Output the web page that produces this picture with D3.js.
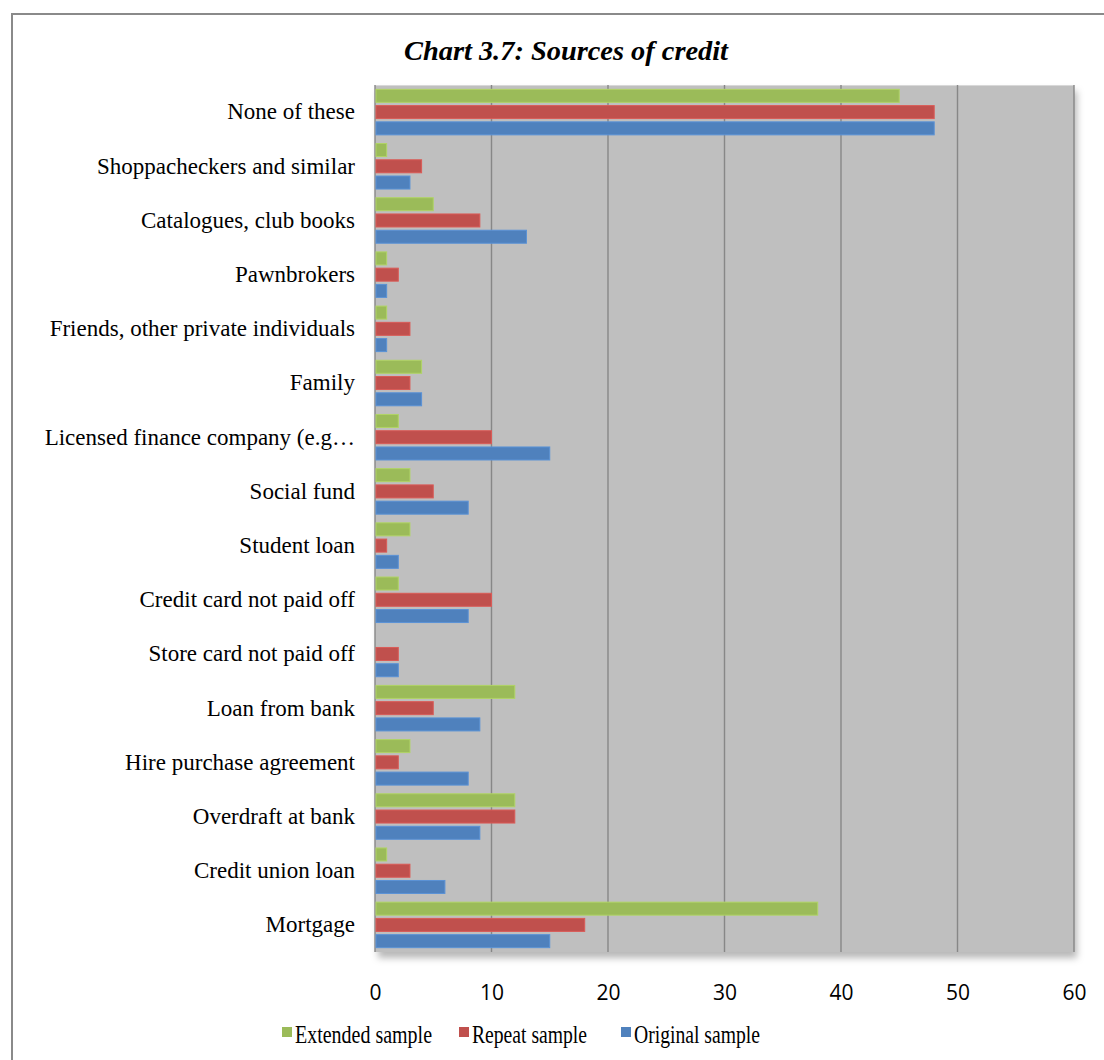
<!DOCTYPE html>
<html>
<head>
<meta charset="utf-8">
<script src="https://cdnjs.cloudflare.com/ajax/libs/d3/7.8.5/d3.min.js"></script>
<style>
  html, body { margin: 0; padding: 0; background: #fff; }
  svg { display: block; }
</style>
</head>
<body>
<svg id="chart" width="1104" height="1060"></svg>
<script>
// ---- data ----
const categories = [
  "None of these",
  "Shoppacheckers and similar",
  "Catalogues, club books",
  "Pawnbrokers",
  "Friends, other private individuals",
  "Family",
  "Licensed finance company (e.g…",
  "Social fund",
  "Student loan",
  "Credit card not paid off",
  "Store card not paid off",
  "Loan from bank",
  "Hire purchase agreement",
  "Overdraft at bank",
  "Credit union loan",
  "Mortgage"
];
const seriesNames = ["Extended sample", "Repeat sample", "Original sample"];
const extendedSample = [45, 1, 5, 1, 1, 4, 2, 3, 3, 2, 0, 12, 3, 12, 1, 38];
const repeatSample   = [48, 4, 9, 2, 3, 3, 10, 5, 1, 10, 2, 5, 2, 12, 3, 18];
const originalSample = [48, 3, 13, 1, 1, 4, 15, 8, 2, 8, 2, 9, 8, 9, 6, 15];
const xTicks = [0, 10, 20, 30, 40, 50, 60];
const seriesColors = ["#9BBB59", "#C0504D", "#4F81BD"];
const titleText = "Chart 3.7: Sources of credit";

// ---- layout ----
const svg = d3.select("#chart");
const plot = { left: 375, right: 1074, top: 85, bottom: 952 };

const x = d3.scaleLinear().domain([0, 60]).range([plot.left, plot.right]);
const y = d3.scaleBand().domain(categories).range([plot.top, plot.bottom])
  .paddingInner(0.16).paddingOuter(0.08);
const ySub = d3.scaleBand().domain(seriesNames).range([0, y.bandwidth()]).paddingInner(0.2);
const color = d3.scaleOrdinal().domain(seriesNames).range(seriesColors);

const allSeries = [extendedSample, repeatSample, originalSample];
const rows = [];
categories.forEach((c, i) => {
  seriesNames.forEach((s, j) => rows.push({ cat: c, series: s, value: allSeries[j][i] }));
});

// outer frame
svg.append("line").attr("x1", 12).attr("x2", 1104).attr("y1", 14).attr("y2", 14)
  .attr("stroke", "#8a8a8a").attr("stroke-width", 2);
svg.append("line").attr("x1", 12).attr("x2", 12).attr("y1", 13).attr("y2", 1060)
  .attr("stroke", "#8a8a8a").attr("stroke-width", 2);

// shadow filter
const defs = svg.append("defs");
const f = defs.append("filter").attr("id", "shadow").attr("x", "-5%").attr("y", "-5%")
  .attr("width", "115%").attr("height", "115%");
f.append("feDropShadow").attr("dx", 3).attr("dy", 6).attr("stdDeviation", 3.5)
  .attr("flood-color", "#000").attr("flood-opacity", 0.28);

// plot background
svg.append("rect")
  .attr("x", plot.left).attr("y", plot.top)
  .attr("width", plot.right - plot.left).attr("height", plot.bottom - plot.top)
  .attr("fill", "#BFBFBF").attr("filter", "url(#shadow)");
svg.append("line").attr("x1", plot.left).attr("x2", plot.right)
  .attr("y1", plot.top + 0.5).attr("y2", plot.top + 0.5)
  .attr("stroke", "#d8d8d8").attr("stroke-width", 1);

// gridlines
svg.append("g").selectAll("line").data(xTicks).join("line")
  .attr("x1", d => x(d)).attr("x2", d => x(d))
  .attr("y1", plot.top).attr("y2", plot.bottom)
  .attr("stroke", "#878787").attr("stroke-width", 1.4);

// bars
svg.append("g").selectAll("rect").data(rows.filter(r => r.value > 0)).join("rect")
  .attr("x", x(0) + 1)
  .attr("y", d => y(d.cat) + ySub(d.series))
  .attr("width", d => x(d.value) - x(0) - 1)
  .attr("height", ySub.bandwidth())
  .attr("fill", d => color(d.series))
  .attr("stroke", d => d3.color(color(d.series)).brighter(0.35))
  .attr("stroke-width", 1);

// category labels
svg.append("g").selectAll("text").data(categories).join("text")
  .attr("x", 355)
  .attr("y", d => y(d) + y.bandwidth() / 2)
  .attr("dy", "0.32em")
  .attr("text-anchor", "end")
  .attr("font-family", "'Liberation Serif', 'Times New Roman', serif")
  .attr("font-size", 23)
  .attr("fill", "#000")
  .text(d => d);

// x tick labels
const xAxis = d3.axisBottom(x).tickValues(xTicks).tickSize(0).tickPadding(0).tickFormat(d3.format("d"));
const gx = svg.append("g").attr("transform", `translate(0, 1000)`).call(xAxis);
gx.select(".domain").remove();
gx.selectAll("text")
  .attr("dy", 0).attr("y", 0)
  .attr("font-family", "'Open Sans', 'Liberation Sans', sans-serif")
  .attr("font-size", 21)
  .attr("fill", "#000");

// title
svg.append("text")
  .attr("x", 566).attr("y", 60)
  .attr("text-anchor", "middle")
  .attr("font-family", "'Liberation Serif', 'Times New Roman', serif")
  .attr("font-style", "italic").attr("font-weight", "bold")
  .attr("font-size", 28)
  .attr("textLength", 324).attr("lengthAdjust", "spacingAndGlyphs")
  .text(titleText);

// legend
const legendX = [282, 459, 621];
const legendTextW = [137, 115, 126];
const lg = svg.append("g").selectAll("g").data(seriesNames).join("g")
  .attr("transform", (d, i) => `translate(${legendX[i]}, 1027)`);
lg.append("rect").attr("width", 10).attr("height", 10).attr("fill", d => color(d));
lg.append("text")
  .attr("x", 13).attr("y", 15.5)
  .attr("font-family", "'Liberation Serif', 'Times New Roman', serif")
  .attr("font-size", 25)
  .attr("textLength", (d, i) => legendTextW[i]).attr("lengthAdjust", "spacingAndGlyphs")
  .attr("fill", "#000")
  .text(d => d);
</script>
</body>
</html>
